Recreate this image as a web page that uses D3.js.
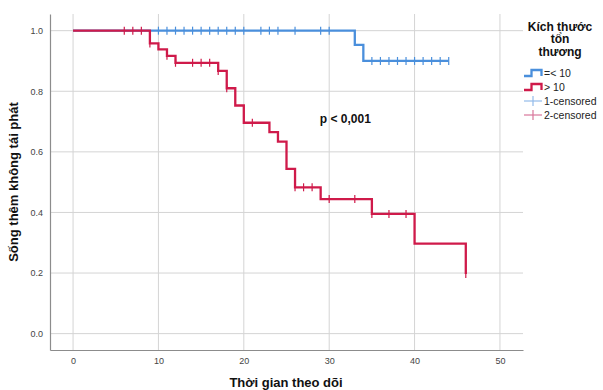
<!DOCTYPE html>
<html>
<head>
<meta charset="utf-8">
<script src="https://cdn.jsdelivr.net/npm/d3@7"></script>
<style>
  body { margin: 0; background: #fff; }
  text { font-family: "Liberation Sans", Arial, sans-serif; }
</style>
</head>
<body>
<script>
// data
var groupNames = ["=< 10", "> 10"];
var censorNames = ["1-censored", "2-censored"];
var xTicks = [0, 10, 20, 30, 40, 50];
var yTicks = [0.0, 0.2, 0.4, 0.6, 0.8, 1.0];

// group 1 (=< 10): event times and survival after each event
var blueTime = [0, 33, 34];
var blueSurv = [1.0, 0.953, 0.900];
var blueEnd = 44;
var blueCensor = [10, 11, 12, 13, 14, 15, 16, 17, 18, 19, 20, 22, 23, 24, 26, 29, 30,
                  35, 36, 37, 38, 39, 40, 41, 42, 43, 44];

// group 2 (> 10)
var redTime = [0, 9, 10, 11, 12, 17, 18, 19, 20, 23, 24, 25, 26, 29, 35, 40, 46];
var redSurv = [1.0, 0.958, 0.938, 0.917, 0.894, 0.867, 0.810, 0.753, 0.696, 0.665,
               0.634, 0.544, 0.483, 0.444, 0.395, 0.297, 0.197];
var redEnd = 46;
var redCensor = [6, 7, 8, 9, 11, 12, 14, 15, 16, 17, 18, 21, 26, 27, 28, 30, 33, 35, 37, 39, 46];

var pValue = "p < 0,001";

var width = 603, height = 390;
var blue = "#4a8fdc", red = "#cf1a4a";
var blueLight = "#93bbea", redLight = "#d8769a";

var svg = d3.select("body").append("svg")
    .attr("width", width)
    .attr("height", height);

var x = d3.scaleLinear().domain([-2.7, 52.7]).range([50, 523]);
var y = d3.scaleLinear().domain([-0.054, 1.055]).range([350, 14]);

// grid
svg.append("g").selectAll("line")
    .data(xTicks).enter().append("line")
    .attr("x1", function(d) { return x(d); })
    .attr("x2", function(d) { return x(d); })
    .attr("y1", 14).attr("y2", 350)
    .attr("stroke", "#d4d4d4").attr("stroke-width", 1);
svg.append("g").selectAll("line")
    .data(yTicks).enter().append("line")
    .attr("x1", 50).attr("x2", 523)
    .attr("y1", function(d) { return y(d); })
    .attr("y2", function(d) { return y(d); })
    .attr("stroke", "#d4d4d4").attr("stroke-width", 1);

// axes
var xAxis = svg.append("g")
    .attr("transform", "translate(0,350)")
    .call(d3.axisBottom(x).tickValues(xTicks).tickSize(0).tickPadding(8).tickFormat(d3.format("d")));
var yAxis = svg.append("g")
    .attr("transform", "translate(50,0)")
    .call(d3.axisLeft(y).tickValues(yTicks).tickSize(0).tickPadding(7).tickFormat(d3.format(".1f")));
[xAxis, yAxis].forEach(function(a) {
    a.select(".domain").attr("stroke", "#8c8c8c").attr("stroke-width", 1.2);
    a.selectAll("text")
        .attr("font-family", "'Liberation Sans', Arial, sans-serif")
        .attr("font-size", "9px")
        .attr("fill", "#444");
});

// step curves
function stepPoints(times, surv, end) {
    var pts = times.map(function(t, i) { return [t, surv[i]]; });
    pts.push([end, surv[surv.length - 1]]);
    return pts;
}
function survAt(times, surv, t) {
    var v = surv[0];
    for (var i = 0; i < times.length; i++) {
        if (times[i] <= t) v = surv[i];
    }
    return v;
}
var step = d3.line()
    .x(function(d) { return x(d[0]); })
    .y(function(d) { return y(d[1]); })
    .curve(d3.curveStepAfter);

var series = [
    {times: blueTime, surv: blueSurv, end: blueEnd, cens: blueCensor, color: blue},
    {times: redTime, surv: redSurv, end: redEnd, cens: redCensor, color: red}
];

series.forEach(function(s) {
    svg.append("path")
        .datum(stepPoints(s.times, s.surv, s.end))
        .attr("d", step)
        .attr("fill", "none")
        .attr("stroke", s.color)
        .attr("stroke-width", 2.3);
    svg.append("g").selectAll("line")
        .data(s.cens).enter().append("line")
        .attr("x1", function(d) { return x(d); })
        .attr("x2", function(d) { return x(d); })
        .attr("y1", function(d) { return y(survAt(s.times, s.surv, d)) - 4; })
        .attr("y2", function(d) { return y(survAt(s.times, s.surv, d)) + 4; })
        .attr("stroke", s.color)
        .attr("stroke-width", 1.2);
});

// p value
svg.append("text")
    .attr("x", x(28.9))
    .attr("y", y(0.712) + 5)
    .attr("font-size", "12px")
    .attr("font-weight", "bold")
    .attr("fill", "#111")
    .text(pValue);

// axis titles
svg.append("text")
    .attr("x", 286)
    .attr("y", 387)
    .attr("text-anchor", "middle")
    .attr("font-size", "13px")
    .attr("font-weight", "bold")
    .attr("fill", "#111")
    .text("Thời gian theo dõi");
svg.append("text")
    .attr("transform", "translate(18,182) rotate(-90)")
    .attr("text-anchor", "middle")
    .attr("font-size", "13px")
    .attr("font-weight", "bold")
    .attr("fill", "#111")
    .text("Sống thêm không tái phát");

// legend
var legendTitle = ["Kích thước", "tổn", "thương"];
svg.append("g").selectAll("text")
    .data(legendTitle).enter().append("text")
    .attr("x", 560)
    .attr("y", function(d, i) { return 30.5 + i * 12.5; })
    .attr("text-anchor", "middle")
    .attr("font-size", "12px")
    .attr("font-weight", "bold")
    .attr("fill", "#111")
    .text(function(d) { return d; });

var legendRows = [
    {label: groupNames[0], color: blue, kind: "step"},
    {label: groupNames[1], color: red, kind: "step"},
    {label: censorNames[0], color: blueLight, kind: "cens"},
    {label: censorNames[1], color: redLight, kind: "cens"}
];
var leg = svg.append("g").selectAll("g")
    .data(legendRows).enter().append("g")
    .attr("transform", function(d, i) { return "translate(0," + (73 + i * 14) + ")"; });
leg.each(function(d) {
    var g = d3.select(this);
    if (d.kind === "step") {
        g.append("path")
            .attr("d", "M524,3H531.5V-3H541.5V3")
            .attr("fill", "none")
            .attr("stroke", d.color)
            .attr("stroke-width", 2.3);
    } else {
        g.append("line").attr("x1", 524).attr("x2", 542).attr("y1", 0).attr("y2", 0)
            .attr("stroke", d.color).attr("stroke-width", 1.2);
        g.append("line").attr("x1", 533).attr("x2", 533).attr("y1", -5).attr("y2", 5)
            .attr("stroke", d.color).attr("stroke-width", 1.2);
    }
    g.append("text")
        .attr("x", 544)
        .attr("y", 4)
        .attr("font-size", "10.5px")
        .attr("fill", "#222")
        .text(d.label);
});
</script>
</body>
</html>
